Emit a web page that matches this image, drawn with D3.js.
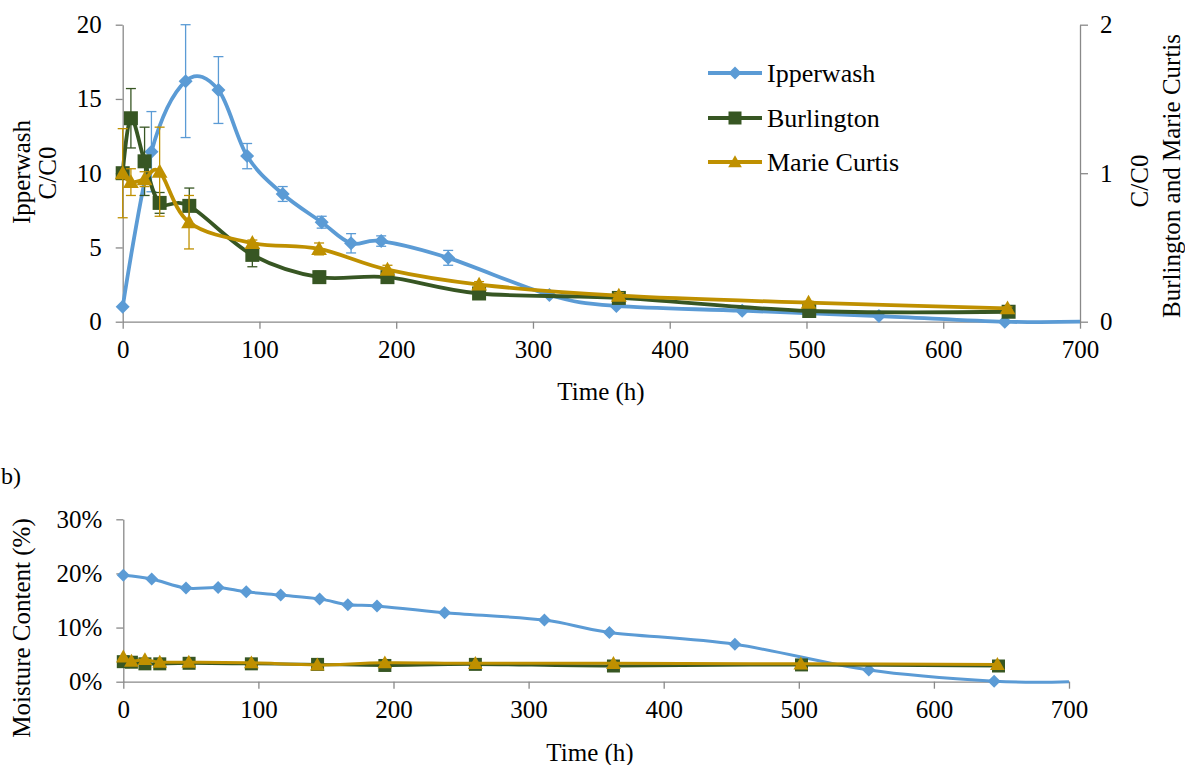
<!DOCTYPE html>
<html>
<head>
<meta charset="utf-8">
<script src="https://cdn.jsdelivr.net/npm/d3@7"></script>
<style>
  html, body { margin: 0; padding: 0; background: #fff; }
  svg { display: block; font-family: "Liberation Serif", "Times New Roman", serif; }
</style>
</head>
<body>
<svg id="chart" width="1185" height="765"></svg>
<script>
// ---------- DATA ----------
const seriesNames = ["Ipperwash", "Burlington", "Marie Curtis"];
const seriesColors = ["#5B9BD5", "#375623", "#BF9000"];

// (a) C/C0 — Ipperwash on left axis (last point is the line tail, no marker)
const ipTime  = [0, 21, 46, 70, 91, 117, 145.5, 167, 189, 238, 312, 361, 453, 553, 645, 700];
const ipCC    = [1.0, 11.45, 16.2, 15.6, 11.15, 8.6, 6.7, 5.28, 5.43, 4.3, 1.8, 1.06, 0.74, 0.38, 0.0, 0.0];
const ipCCErr = [0, 2.7, 3.8, 2.25, 0.85, 0.5, 0.4, 0.65, 0.35, 0.5, 0, 0, 0, 0, 0, 0];

// (a) C/C0 — Burlington and Marie Curtis on right axis
const brTime  = [0, 6, 16, 27, 48.7, 94.8, 143.8, 193.6, 260.6, 362.8, 502, 647.8];
const brCC    = [1.0, 1.37, 1.08, 0.80, 0.78, 0.45, 0.30, 0.30, 0.19, 0.16, 0.072, 0.067];
const brCCErr = [0.03, 0.2, 0.23, 0.07, 0.12, 0.08, 0.04, 0.02, 0.01, 0.02, 0.01, 0.01];

const mcTime  = [0, 6, 16, 27, 48.5, 94.8, 143.6, 193.6, 260.6, 362.8, 501.5, 647];
const mcCC    = [1.0, 0.94, 0.96, 1.01, 0.67, 0.53, 0.49, 0.35, 0.25, 0.175, 0.128, 0.09];
const mcCCErr = [0.3, 0.09, 0.05, 0.3, 0.18, 0.02, 0.04, 0.03, 0.02, 0.02, 0.01, 0.01];

// (b) Moisture content (%)
const ipMoistTime = [0, 21, 46.4, 70.2, 91, 116.5, 145.3, 166.2, 187.8, 237.8, 311.7, 359.8, 452.7, 551.8, 644.6, 700];
const ipMoist     = [19.66, 18.97, 17.3, 17.4, 16.6, 16.0, 15.3, 14.2, 14.0, 12.75, 11.4, 9.1, 6.9, 2.16, 0.1, 0.0];
const brMoist     = [3.7, 3.6, 3.3, 3.3, 3.4, 3.3, 3.2, 3.0, 3.2, 2.9, 3.1, 2.9];
const mcMoist     = [4.6, 3.8, 4.1, 3.6, 3.6, 3.5, 3.1, 3.5, 3.4, 3.4, 3.3, 3.2];

// Tick values
const timeTicks = [0, 100, 200, 300, 400, 500, 600, 700];
const ccLeftTicks = [0, 5, 10, 15, 20];
const ccRightTicks = [0, 1, 2];
const moistTicks = [0, 10, 20, 30];

// ---------- DRAW ----------
const svg = d3.select("#chart");
const axisColor = "#898989";
const fontSize = 25;

const zip = (xs, ys, es) => xs.map((x, i) => ({ x, y: ys[i], e: es ? es[i] : 0 }));

function styleAxis(g) {
  g.selectAll("path.domain").attr("stroke", axisColor).attr("stroke-width", 1.3);
  g.selectAll(".tick line").attr("stroke", axisColor).attr("stroke-width", 1.3);
  g.selectAll(".tick text").attr("fill", "#000").style("font-size", fontSize + "px")
    .style("font-family", '"Liberation Serif", "Times New Roman", serif');
}

function markerPath(type, s) {
  if (type === "diamond") return `M0,${-s}L${s},0L0,${s}L${-s},0Z`;
  if (type === "square") return `M${-s},${-s}H${s}V${s}H${-s}Z`;
  // triangle
  return `M0,${-s * 1.05}L${s * 1.05},${s * 0.8}L${-s * 1.05},${s * 0.8}Z`;
}
const markerTypes = ["diamond", "square", "triangle"];
const markerSizes = [7, 7, 7.5];

function drawSeries(g, data, xs, ys, idx, opts) {
  const color = seriesColors[idx];
  const line = d3.line().x(d => xs(d.x)).y(d => ys(d.y)).curve(d3.curveCatmullRom.alpha(0));
  // error bars
  if (opts.err) {
    const eg = g.append("g");
    data.forEach((d, i) => {
      if (!d.e || (opts.noMarkerLast && i === data.length - 1)) return;
      const cx = xs(d.x), y1 = ys(d.y + d.e), y2 = ys(Math.max(0, d.y - d.e));
      eg.append("line").attr("x1", cx).attr("x2", cx).attr("y1", y1).attr("y2", y2)
        .attr("stroke", color).attr("stroke-width", 1.3);
      [y1, y2].forEach(yy => eg.append("line").attr("x1", cx - 5).attr("x2", cx + 5)
        .attr("y1", yy).attr("y2", yy).attr("stroke", color).attr("stroke-width", 1.3));
    });
  }
  g.append("path").datum(data).attr("d", line).attr("fill", "none")
    .attr("stroke", color).attr("stroke-width", opts.lw).attr("stroke-linejoin", "round");
  const pts = opts.noMarkerLast ? data.slice(0, -1) : data;
  g.append("g").selectAll("path").data(pts).join("path")
    .attr("transform", d => `translate(${xs(d.x)},${ys(d.y)})`)
    .attr("d", markerPath(markerTypes[idx], opts.ms || markerSizes[idx]))
    .attr("fill", color);
}

// ===== Top chart (a) =====
const xTop = d3.scaleLinear().domain([0, 700]).range([122.7, 1080]);
const yTopL = d3.scaleLinear().domain([0, 20]).range([321.7, 24.7]);
const yTopR = d3.scaleLinear().domain([0, 2]).range([321.7, 24.7]);

const gxTop = svg.append("g").attr("transform", `translate(0,${yTopL(0)})`)
  .call(d3.axisBottom(xTop).tickValues(timeTicks).tickFormat(d3.format("d")).tickSize(7).tickSizeOuter(0).tickPadding(12));
styleAxis(gxTop);
const gyTopL = svg.append("g").attr("transform", `translate(${xTop(0)},0)`)
  .call(d3.axisLeft(yTopL).tickValues(ccLeftTicks).tickSize(7).tickSizeOuter(0).tickPadding(14));
styleAxis(gyTopL);
const gyTopR = svg.append("g").attr("transform", `translate(${xTop(700)},0)`)
  .call(d3.axisRight(yTopR).tickValues(ccRightTicks).tickFormat(d3.format("d")).tickSize(8).tickSizeOuter(0).tickPadding(12));
styleAxis(gyTopR);

const topPlot = svg.append("g");
drawSeries(topPlot, zip(ipTime, ipCC, ipCCErr), xTop, yTopL, 0, { lw: 3.8, err: true, noMarkerLast: true });
drawSeries(topPlot, zip(brTime, brCC, brCCErr), xTop, yTopR, 1, { lw: 3.8, err: true });
drawSeries(topPlot, zip(mcTime, mcCC, mcCCErr), xTop, yTopR, 2, { lw: 3.8, err: true });

// axis titles (top)
const tStyle = s => s.attr("fill", "#000").style("font-size", fontSize + "px").attr("text-anchor", "middle");
svg.append("text").call(tStyle).attr("x", 601).attr("y", 400).text("Time (h)");
svg.append("text").call(tStyle).attr("transform", "translate(30,172) rotate(-90)").text("Ipperwash");
svg.append("text").call(tStyle).attr("transform", "translate(56,173) rotate(-90)").text("C/C0");
svg.append("text").call(tStyle).attr("transform", "translate(1148,181) rotate(-90)").text("C/C0");
svg.append("text").call(tStyle).attr("transform", "translate(1180,176) rotate(-90)").text("Burlington and Marie Curtis");

// legend
const legRows = [73, 118, 162];
const leg = svg.append("g");
seriesNames.forEach((name, i) => {
  const y = legRows[i];
  leg.append("line").attr("x1", 708).attr("x2", 762).attr("y1", y).attr("y2", y)
    .attr("stroke", seriesColors[i]).attr("stroke-width", 3.8);
  leg.append("path").attr("transform", `translate(735,${y})`).attr("d", markerPath(markerTypes[i], 6.5)).attr("fill", seriesColors[i]);
  leg.append("text").attr("x", 767).attr("y", y).attr("dy", "0.33em").attr("fill", "#000")
    .style("font-size", "26px").text(name);
});

// ===== Bottom chart (b) =====
const xBot = d3.scaleLinear().domain([0, 700]).range([123.3, 1069]);
const yBot = d3.scaleLinear().domain([0, 30]).range([681.7, 519.3]);

const gxBot = svg.append("g").attr("transform", `translate(0,${yBot(0)})`)
  .call(d3.axisBottom(xBot).tickValues(timeTicks).tickFormat(d3.format("d")).tickSize(7).tickSizeOuter(0).tickPadding(12));
styleAxis(gxBot);
const gyBot = svg.append("g").attr("transform", `translate(${xBot(0)},0)`)
  .call(d3.axisLeft(yBot).tickValues(moistTicks).tickFormat(d => d + "%").tickSize(7).tickSizeOuter(0).tickPadding(14));
styleAxis(gyBot);

const botPlot = svg.append("g");
drawSeries(botPlot, zip(ipMoistTime, ipMoist), xBot, yBot, 0, { lw: 3, noMarkerLast: true, ms: 6.5 });
drawSeries(botPlot, zip(brTime, brMoist), xBot, yBot, 1, { lw: 3, ms: 6.5 });
drawSeries(botPlot, zip(mcTime, mcMoist), xBot, yBot, 2, { lw: 3, ms: 7 });

svg.append("text").call(tStyle).attr("x", 590).attr("y", 761).text("Time (h)");
svg.append("text").call(tStyle).attr("transform", "translate(30,628) rotate(-90)").text("Moisture Content (%)");
svg.append("text").attr("fill", "#000").style("font-size", "24px").attr("text-anchor", "start")
  .attr("x", 1).attr("y", 484).text("b)");
</script>
</body>
</html>
